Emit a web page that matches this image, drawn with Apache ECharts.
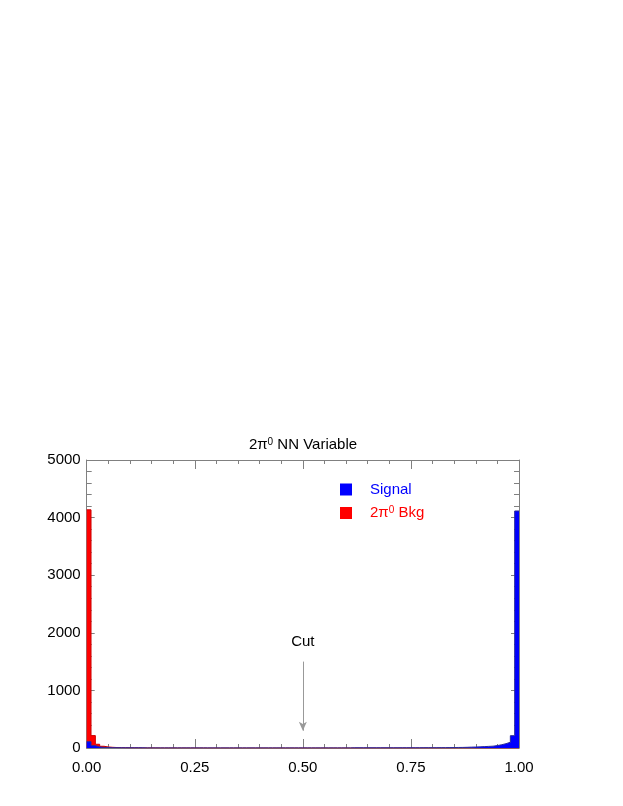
<!DOCTYPE html>
<html>
<head>
<meta charset="utf-8">
<script src="https://cdn.jsdelivr.net/npm/echarts@6/dist/echarts.min.js"></script>
<style>html,body{margin:0;padding:0;background:#fff;}#c{width:623px;height:806px;}</style>
</head>
<body>
<div id="c"></div>
<script>
// Bin width 0.01, 100 bins from 0 to 1
var binEdges = [];
for (var i = 0; i <= 100; i++) binEdges.push(+(i * 0.01).toFixed(2));

var bkgCounts = [4135, 215, 65, 30, 18, 12, 8, 6, 5, 4,
  3, 3, 2, 2, 2, 2, 1, 1, 1, 1,
  1, 1, 1, 1, 1, 1, 1, 0, 0, 0,
  0, 0, 0, 0, 0, 0, 0, 0, 0, 0,
  0, 0, 0, 0, 0, 0, 0, 0, 0, 0,
  0, 0, 0, 0, 0, 0, 0, 0, 0, 0,
  0, 0, 0, 0, 0, 0, 0, 0, 0, 0,
  0, 0, 0, 0, 0, 0, 0, 0, 0, 0,
  0, 0, 0, 0, 0, 0, 0, 0, 0, 0,
  0, 0, 0, 0, 0, 0, 0, 0, 0, 1];

var signalCounts = [110, 40, 18, 10, 7, 5, 4, 4, 3, 3,
  3, 3, 3, 2, 2, 2, 2, 2, 2, 2,
  2, 2, 2, 2, 2, 2, 2, 2, 2, 2,
  2, 2, 2, 2, 2, 2, 2, 2, 2, 2,
  2, 2, 2, 2, 2, 2, 2, 2, 2, 2,
  2, 2, 2, 2, 2, 2, 2, 2, 2, 2,
  2, 3, 3, 3, 3, 3, 3, 3, 3, 3,
  3, 3, 4, 4, 4, 4, 4, 5, 5, 5,
  5, 6, 6, 7, 8, 9, 10, 12, 15, 17,
  20, 24, 28, 32, 42, 57, 75, 100, 214, 4115];

var xTicks = ['0.00', '0.25', '0.50', '0.75', '1.00'];
var cutValue = 0.5;
var cutArrow = [1500, 300];

function stepData(counts) {
  var d = [];
  for (var i = 0; i < counts.length; i++) d.push([binEdges[i], counts[i]]);
  d.push([binEdges[counts.length], counts[counts.length - 1]]);
  return d;
}

var FONT = '"Liberation Sans", Arial, Helvetica, sans-serif';
var axisGray = '#808080';

var chart = echarts.init(document.getElementById('c'), null, {renderer: 'canvas'});

function xAxisCfg(showLabel) {
  return {
    type: 'value', min: 0, max: 1, interval: 0.25,
    axisLine: {show: true, onZero: false, lineStyle: {color: axisGray, width: 1}},
    axisTick: {show: true, inside: true, length: 9, lineStyle: {color: axisGray}},
    minorTick: {show: true, splitNumber: 5, length: 4, lineStyle: {color: axisGray}},
    splitLine: {show: false},
    axisLabel: {show: showLabel, color: '#000', fontFamily: FONT, fontSize: 15, margin: 12,
      formatter: function (v) { return xTicks[Math.round(v / 0.25)]; }}
  };
}
function yAxisCfg(showLabel) {
  return {
    type: 'value', min: 0, max: 5000, interval: 1000,
    axisLine: {show: true, onZero: false, lineStyle: {color: axisGray, width: 1}},
    axisTick: {show: true, inside: true, length: 8, lineStyle: {color: axisGray}},
    minorTick: {show: true, splitNumber: 5, length: 5, lineStyle: {color: axisGray}},
    splitLine: {show: false},
    axisLabel: {show: showLabel, color: '#000', fontFamily: FONT, fontSize: 15, margin: 6,
      formatter: function (v) { return String(v); }}
  };
}

var xTop = xAxisCfg(false); xTop.position = 'top';
var yRight = yAxisCfg(false); yRight.position = 'right';

chart.setOption({
  animation: false,
  backgroundColor: '#fff',
  title: {
    text: '{a|2π}{s|0}{a| NN Variable}',
    left: 303, textAlign: 'center', top: 437, padding: 0,
    textStyle: {
      fontWeight: 'normal',
      rich: {
        a: {fontFamily: FONT, fontSize: 15, color: '#000', fontWeight: 'normal'},
        s: {fontFamily: FONT, fontSize: 10, color: '#000', fontWeight: 'normal', verticalAlign: 'top', padding: [0, 0, 6, 0]}
      }
    }
  },
  legend: {
    orient: 'vertical', left: 340, top: 482, padding: 0,
    itemWidth: 12, itemHeight: 12, itemGap: 8,
    icon: 'rect',
    data: ['Signal', 'Bkg'],
    formatter: function (name) {
      return name === 'Signal' ? '{b|Signal}' : '{r|2π}{rs|0}{r| Bkg}';
    },
    textStyle: {
      padding: [0, 0, 0, 13],
      rich: {
        b: {color: '#0000ff', fontFamily: FONT, fontSize: 15},
        r: {color: '#ff0000', fontFamily: FONT, fontSize: 15},
        rs: {color: '#ff0000', fontFamily: FONT, fontSize: 10, verticalAlign: 'top', padding: [0, 0, 6, 0]}
      }
    }
  },
  grid: {left: 86.7, right: 104, top: 460, bottom: 58},
  xAxis: [xAxisCfg(true), xTop],
  yAxis: [yAxisCfg(true), yRight],
  series: [
    {
      name: 'Bkg', type: 'line', step: 'end', symbol: 'none',
      data: stepData(bkgCounts),
      itemStyle: {color: '#ff0000'},
      lineStyle: {color: '#cc0000', width: 1},
      areaStyle: {color: '#ff0000', opacity: 1, origin: 'start'},
      z: 2
    },
    {
      name: 'Signal', type: 'line', step: 'end', symbol: 'none',
      data: stepData(signalCounts),
      itemStyle: {color: '#0000ff'},
      lineStyle: {color: '#2a2a9a', width: 1},
      areaStyle: {color: '#0000ff', opacity: 1, origin: 'start'},
      z: 3,
      markLine: {
        silent: true,
        symbol: ['none', 'arrow'],
        symbolSize: [6, 9],
        lineStyle: {color: '#999999', width: 1, type: 'solid'},
        label: {show: true, position: 'start', formatter: 'Cut', color: '#000',
          fontFamily: FONT, fontSize: 15, distance: 12},
        data: [[{coord: [cutValue, cutArrow[0]]}, {coord: [cutValue, cutArrow[1]]}]]
      }
    }
  ]
});
</script>
</body>
</html>
